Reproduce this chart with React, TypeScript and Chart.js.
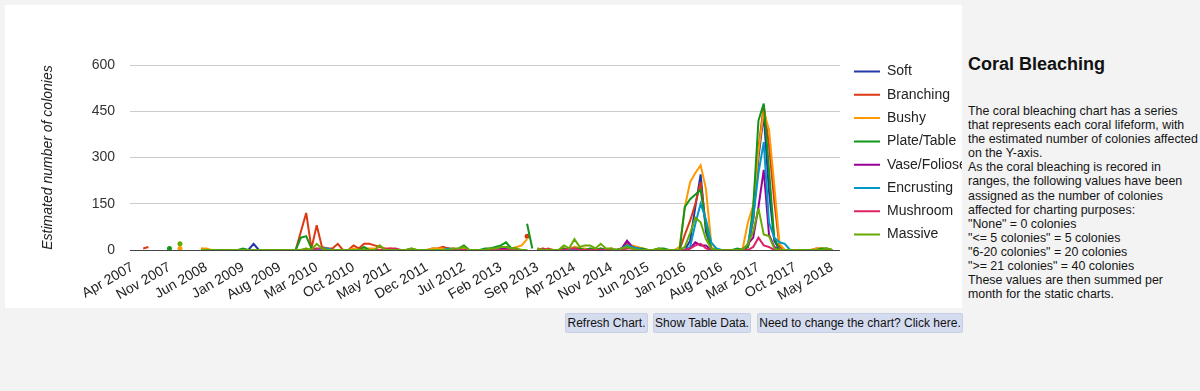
import React, { useEffect, useRef } from "react";
import { Chart, registerables } from "chart.js";

Chart.register(...registerables);

const FONT = '"Liberation Sans", Arial, Helvetica, sans-serif';
const BG = "#f3f3f3";

// ---- categories (monthly, Apr 2007 .. Jun 2018) ----
const MONTH_NAMES = ["Jan", "Feb", "Mar", "Apr", "May", "Jun", "Jul", "Aug", "Sep", "Oct", "Nov", "Dec"];
const FIRST_YEAR = 2007;
const FIRST_MONTH = 3; // April
const MONTH_COUNT = 135;
const categories: string[] = Array.from({ length: MONTH_COUNT }, (_, k) => {
  const t = FIRST_MONTH + k;
  return `${MONTH_NAMES[t % 12]} ${FIRST_YEAR + Math.floor(t / 12)}`;
});

// ---- x tick labels shown ----
const tickLabels = [
  "Apr 2007", "Nov 2007", "Jun 2008", "Jan 2009", "Aug 2009", "Mar 2010", "Oct 2010",
  "May 2011", "Dec 2011", "Jul 2012", "Feb 2013", "Sep 2013", "Apr 2014", "Nov 2014",
  "Jun 2015", "Jan 2016", "Aug 2016", "Mar 2017", "Oct 2017", "May 2018",
];

// ---- y ticks ----
const yTicks = [0, 150, 300, 450, 600];

// ---- series names & colours ----
const seriesNames = ["Soft", "Branching", "Bushy", "Plate/Table", "Vase/Foliose", "Encrusting", "Mushroom", "Massive"];
const seriesColors = ["#2438a8", "#dc3912", "#ff9900", "#109618", "#990099", "#0099c6", "#dd2266", "#66aa00"];

// ---- series values (rows: 2007 Apr-Dec, 2008 ... 2017, 2018 Jan-Jun) ----
const soft = [
  null, null, null, null, null, null, null, null, null,
  null, null, null, null, 0, 0, 0, 0, 0, 0, 0, 0,
  0, 0, 20, 0, 0, 0, 0, 0, 0, 0, 0, 0,
  0, 0, 0, 5, 5, 0, 0, 0, 0, 0, 0, 0,
  0, 0, 0, 0, 0, 0, 0, 0, 0, 0, 0, 0,
  0, 0, 5, 5, 0, 0, 0, 0, 0, 0, 0, 5,
  5, 10, 10, 5, 0, 0, 0, null, 0, 0, 0, 0,
  0, 0, 0, 5, 0, 0, 0, 0, 0, 0, 0, 0,
  5, 25, 10, 5, 0, 0, 0, 0, 0, 0, 0, 0,
  0, 30, 140, 245, 60, 5, 0, 0, 0, 0, 0, 0,
  10, 100, 300, 440, 190, 30, 0, 0, 0, 0, 0, 0,
  0, 0, 0, 0, 0, null,
];
const branching = [
  null, null, 5, 10, null, null, null, null, null,
  null, null, null, null, 5, 0, 0, 0, 0, 0, 0, 0,
  0, 0, 0, 0, 0, 0, 0, 0, 0, 0, 0, 60,
  120, 5, 80, 10, 5, 5, 20, 0, 0, 15, 5, 20,
  20, 15, 10, 5, 5, 0, 0, 0, 0, 0, 0, 0,
  5, 5, 10, 5, 5, 0, 5, 0, 0, 0, 0, 0,
  0, 5, 5, 0, 5, null, 45, null, 5, 0, 5, 0,
  0, 5, 0, 10, 5, 0, 5, 0, 5, 0, 5, 0,
  5, 20, 10, 5, 0, 0, 0, 0, 0, 0, 0, 0,
  50, 95, 150, 220, 80, 5, 0, 0, 0, 0, 0, 0,
  10, 100, 330, 470, 340, 160, 10, 0, 0, 0, 0, 0,
  0, 5, 5, 0, 0, null,
];
const bushy = [
  null, null, null, null, null, null, null, null, null,
  5, null, null, null, 5, 5, 0, 0, 0, 0, 0, 0,
  0, 0, 0, 0, 0, 0, 0, 0, 0, 0, 0, 0,
  5, 0, 5, 0, 0, 0, 0, 0, 0, 5, 0, 5,
  5, 5, 0, 0, 0, 0, 0, 0, 0, 0, 0, 0,
  5, 5, 5, 0, 0, 0, 5, 0, 0, 0, 0, 0,
  5, 10, 5, 5, 10, 15, 35, null, 0, 5, 0, 0,
  0, 5, 0, 10, 5, 5, 0, 5, 0, 0, 5, 0,
  5, 15, 15, 10, 5, 0, 0, 0, 0, 0, 0, 10,
  140, 220, 250, 275, 200, 25, 0, 0, 0, 0, 0, 5,
  90, 145, 320, 450, 390, 210, 20, 0, 0, 0, 0, 0,
  0, 5, 5, 5, 0, null,
];
const plateTable = [
  null, null, null, null, null, null, null, 5, null,
  null, null, null, null, 0, 0, 0, 0, 0, 0, 0, 0,
  5, 0, 0, 0, 0, 0, 0, 0, 0, 0, 0, 40,
  45, 5, 0, 0, 0, 0, 0, 0, 0, 0, 0, 10,
  0, 0, 0, 0, 0, 0, 0, 0, 5, 0, 0, 0,
  0, 0, 0, 0, 0, 5, 15, 0, 0, 0, 5, 5,
  10, 15, 25, 5, 5, null, 85, 5, null, 0, 0, 0,
  0, 5, 0, 5, 5, 0, 5, 0, 5, 0, 0, 0,
  0, 10, 5, 5, 5, 0, 0, 5, 5, 0, 0, 0,
  140, 165, 180, 195, 80, 5, 0, 0, 0, 0, 5, 0,
  10, 140, 420, 475, 260, 40, 0, 0, 0, 0, 0, 0,
  0, 0, 5, 5, 0, null,
];
const vaseFoliose = [
  null, null, null, null, null, null, null, null, null,
  null, null, null, null, 0, 0, 0, 0, 0, 0, 0, 0,
  0, 0, 0, 0, 0, 0, 0, 0, 0, 0, 0, 0,
  0, 0, 0, 0, 0, 0, 0, 0, 0, 0, 0, 0,
  0, 0, 0, 0, 0, 0, 0, 0, 0, 0, 0, 0,
  0, 0, 0, 0, 0, 0, 0, 0, 0, 0, 0, 0,
  0, 5, 5, 0, 0, 0, 0, null, 0, 0, 0, 0,
  0, 0, 0, 0, 0, 0, 0, 0, 0, 0, 0, 0,
  5, 30, 10, 5, 0, 0, 0, 0, 0, 0, 0, 0,
  0, 5, 25, 15, 15, 0, 0, 0, 0, 0, 0, 0,
  20, 40, 140, 260, 50, 10, 0, 0, 0, 0, 0, 0,
  0, 0, 0, 0, 0, null,
];
const encrusting = [
  null, null, null, null, null, null, null, null, null,
  null, null, null, null, 0, 0, 0, 0, 0, 0, 0, 0,
  0, 0, 0, 0, 0, 0, 0, 0, 0, 0, 0, 0,
  0, 0, 0, 5, 5, 0, 0, 0, 0, 0, 0, 0,
  0, 0, 0, 0, 0, 0, 0, 0, 0, 0, 0, 0,
  0, 0, 0, 5, 0, 0, 0, 0, 0, 0, 0, 0,
  5, 10, 10, 5, 0, 0, 0, null, 0, 0, 0, 0,
  0, 0, 0, 0, 0, 0, 0, 0, 0, 0, 0, 0,
  5, 15, 10, 5, 0, 0, 0, 0, 0, 0, 0, 0,
  0, 10, 85, 150, 100, 25, 5, 0, 0, 0, 0, 0,
  20, 105, 250, 350, 90, 40, 25, 20, 0, 0, 0, 0,
  0, 0, 0, 0, 0, null,
];
const mushroom = [
  null, null, null, null, null, null, null, null, null,
  null, null, null, null, 0, 0, 0, 0, 0, 0, 0, 0,
  0, 0, 0, 0, 0, 0, 0, 0, 0, 0, 0, 0,
  0, 0, 5, 5, 0, 0, 0, 0, 0, 0, 0, 0,
  0, 0, 0, 0, 5, 5, 0, 0, 0, 0, 0, 0,
  0, 0, 0, 0, 0, 0, 0, 0, 0, 0, 0, 0,
  0, 0, 0, 0, 0, 0, 0, null, 0, 5, 0, 0,
  0, 0, 5, 5, 0, 0, 0, 0, 0, 0, 0, 0,
  0, 5, 5, 0, 0, 0, 0, 0, 0, 0, 0, 0,
  0, 5, 15, 20, 5, 0, 0, 0, 0, 0, 0, 0,
  0, 10, 40, 15, 10, 0, 0, 0, 0, 0, 0, 0,
  0, 0, 0, 0, 0, null,
];
const massive = [
  null, null, null, null, null, null, null, null, null,
  20, null, null, null, 0, 0, 0, 0, 0, 0, 0, 0,
  0, 0, 0, 0, 0, 0, 0, 0, 0, 0, 0, 0,
  5, 0, 20, 5, 0, 0, 0, 0, 0, 0, 0, 0,
  0, 0, 15, 0, 0, 0, 0, 0, 5, 0, 0, 0,
  0, 0, 0, 0, 5, 5, 10, 0, 0, 0, 0, 5,
  5, 10, 10, 5, 5, 0, 0, null, 5, 0, 0, 0,
  0, 15, 5, 35, 10, 15, 15, 5, 20, 5, 5, 0,
  5, 10, 5, 0, 0, 0, 0, 5, 0, 0, 0, 0,
  10, 55, 105, 90, 35, 5, 0, 0, 0, 0, 0, 0,
  20, 60, 135, 50, 45, 5, 0, 0, 0, 0, 0, 0,
  0, 0, 0, 5, 0, null,
];
const seriesValues = [soft, branching, bushy, plateTable, vaseFoliose, encrusting, mushroom, massive];

// ---- side text ----
const panelTitle = "Coral Bleaching";
const panelLines = [
  "The coral bleaching chart has a series",
  "that represents each coral lifeform, with",
  "the estimated number of colonies affected",
  "on the Y-axis.",
  "As the coral bleaching is recored in",
  "ranges, the following values have been",
  "assigned as the number of colonies",
  "affected for charting purposes:",
  "\"None\" = 0 colonies",
  "\"<= 5 colonies\" = 5 colonies",
  "\"6-20 colonies\" = 20 colonies",
  "\">= 21 colonies\" = 40 colonies",
  "These values are then summed per",
  "month for the static charts.",
];
const buttons = [
  { text: "Refresh Chart.", left: 565, width: 83 },
  { text: "Show Table Data.", left: 653, width: 98 },
  { text: "Need to change the chart? Click here.", left: 757, width: 206 },
];

// plugin: place legend block & tame miter joins
const legendPlace = {
  id: "legendPlace",
  afterLayout(chart: any, _args: any, opts: any) {
    const lg = chart.legend;
    if (!lg) return;
    const pad = lg.options.labels.padding;
    const dx = opts.x - (lg.left + pad);
    const dy = opts.y - (lg.top + pad);
    lg.left += dx;
    lg.right += dx;
    lg.top += dy;
    lg.bottom += dy;
  },
  beforeDatasetsDraw(chart: any) {
    chart.ctx.miterLimit = 4;
  },
};

export default function App() {
  const ref = useRef<HTMLCanvasElement>(null);

  useEffect(() => {
    Chart.defaults.font.family = FONT;
    const isolatedRadius = (ctx: any) => {
      const d = ctx.dataset.data;
      const i = ctx.dataIndex;
      if (d[i] == null) return 0;
      const prev = i > 0 ? d[i - 1] : null;
      const next = i < d.length - 1 ? d[i + 1] : null;
      return prev == null && next == null ? 2.5 : 0;
    };
    const chart = new Chart(ref.current as HTMLCanvasElement, {
      type: "line",
      data: {
        labels: categories,
        datasets: seriesNames.map((name, k) => ({
          label: name,
          data: seriesValues[k],
          borderColor: seriesColors[k],
          backgroundColor: seriesColors[k],
          borderWidth: 2,
          tension: 0,
          pointRadius: isolatedRadius,
          pointHoverRadius: isolatedRadius,
          pointBorderWidth: 0,
          pointBackgroundColor: seriesColors[k],
          spanGaps: false,
          order: seriesNames.length - k,
        })),
      },
      options: {
        responsive: false,
        animation: false,
        layout: { padding: { top: 60, left: 0, right: 0, bottom: 0 } },
        scales: {
          x: {
            type: "category",
            offset: true,
            grid: { display: false, drawTicks: false },
            border: { display: false },
            ticks: {
              autoSkip: false,
              minRotation: 30,
              maxRotation: 30,
              padding: 9,
              color: "#222",
              font: { size: 14 },
              callback: (_v: any, idx: number) => (tickLabels.includes(categories[idx]) ? categories[idx] : ""),
            },
            afterFit: (s: any) => {
              s.height = 58;
            },
          },
          y: {
            min: yTicks[0],
            max: yTicks[yTicks.length - 1],
            border: { display: false },
            grid: {
              drawTicks: false,
              color: (c: any) => (c.tick && c.tick.value === 0 ? "#444" : "#cccccc"),
              lineWidth: 1,
            },
            afterBuildTicks: (s: any) => {
              s.ticks = yTicks.map((v) => ({ value: v }));
            },
            ticks: { padding: 15, color: "#333", font: { size: 14 } },
            title: {
              display: true,
              text: "Estimated number of colonies",
              color: "#222",
              font: { size: 14, style: "italic" },
              padding: { top: 35, bottom: 0 },
            },
            afterFit: (s: any) => {
              s.width = 125;
            },
          },
        },
        plugins: {
          legend: {
            position: "right",
            align: "start",
            maxWidth: 122,
            labels: {
              boxWidth: 26,
              boxHeight: 0,
              padding: 9.3,
              color: "#222",
              font: { size: 14 },
              sort: (a: any, b: any) => a.datasetIndex - b.datasetIndex,
            },
          },
          tooltip: { enabled: false },
          legendPlace: { x: 849, y: 59.5 },
        } as any,
      },
      plugins: [legendPlace as any],
    } as any);
    return () => chart.destroy();
  }, []);

  return (
    <div style={{ position: "relative", width: 1200, height: 391, background: BG, overflow: "hidden", fontFamily: FONT }}>
      <style>{`html,body{margin:0;padding:0;background:${BG};}`}</style>
      <div style={{ position: "absolute", left: 5, top: 5, width: 957, height: 303, background: "#ffffff", overflow: "hidden" }}>
        <canvas ref={ref} width={957} height={303} style={{ display: "block" }} />
      </div>
      <div
        style={{
          position: "absolute",
          left: 968,
          top: 55,
          fontSize: 18,
          lineHeight: "18px",
          fontWeight: "bold",
          color: "#111",
          whiteSpace: "nowrap",
        }}
      >
        {panelTitle}
      </div>
      <div style={{ position: "absolute", left: 968, top: 104, fontSize: 12.4, lineHeight: "14.1px", color: "#151515" }}>
        {panelLines.map((l, i) => (
          <div key={i} style={{ whiteSpace: "nowrap" }}>
            {l}
          </div>
        ))}
      </div>
      {buttons.map((b, i) => (
        <button
          key={i}
          style={{
            position: "absolute",
            top: 313,
            left: b.left,
            width: b.width,
            height: 20,
            boxSizing: "border-box",
            padding: 0,
            margin: 0,
            background: "#d5dcef",
            border: "1px solid #c6cee3",
            borderRadius: 2,
            fontFamily: FONT,
            fontSize: 12,
            color: "#111",
            lineHeight: "18px",
            whiteSpace: "nowrap",
          }}
        >
          {b.text}
        </button>
      ))}
    </div>
  );
}
